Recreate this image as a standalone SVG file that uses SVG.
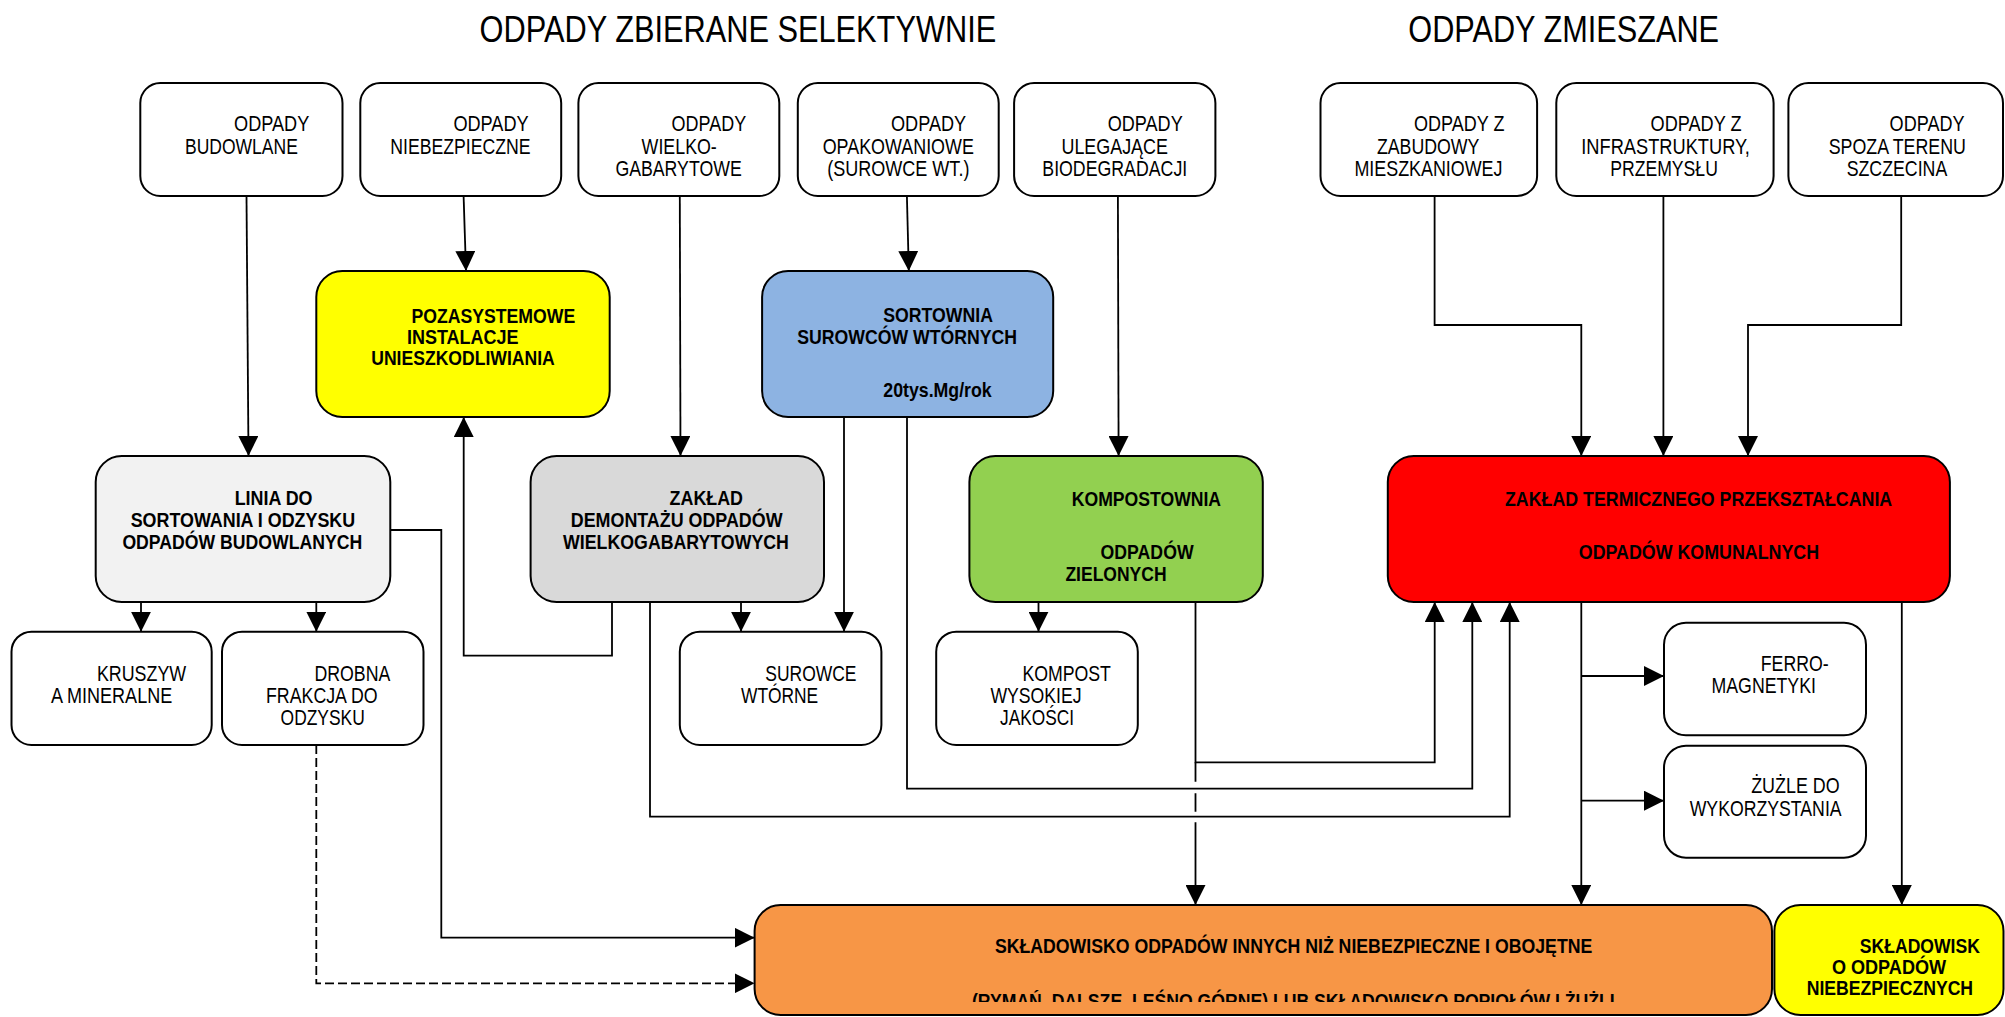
<svg xmlns="http://www.w3.org/2000/svg" width="2005" height="1017" viewBox="0 0 2005 1017">
<style>
text{font-family:"Liberation Sans",Arial,sans-serif;fill:#000}
.t{font-size:37px}
.r{font-size:22px}
.b{font-size:21px;font-weight:bold}
.box{stroke:#000;stroke-width:2}
.w{fill:#fff}
.c{fill:none;stroke:#000;stroke-width:1.8}
.d{stroke-dasharray:9 4}
</style>
<defs>
<marker id="ah" markerUnits="userSpaceOnUse" markerWidth="20" markerHeight="20" refX="20" refY="10" orient="auto" viewBox="0 0 20 20">
<path d="M0,0 L20,10 L0,20 Z" fill="#000"/>
</marker>
<clipPath id="clipL"><rect x="754" y="905" width="1018" height="97"/></clipPath>
</defs>
<rect width="2005" height="1017" fill="#fff"/>

<text class="t" x="479.6" y="41.5" textLength="516.6" lengthAdjust="spacingAndGlyphs">ODPADY ZBIERANE SELEKTYWNIE</text>
<text class="t" x="1408.3" y="41.5" textLength="310.8" lengthAdjust="spacingAndGlyphs">ODPADY ZMIESZANE</text>

<g id="connectors">
<path class="c" d="M246.5,196 L248.5,456" marker-end="url(#ah)"/>
<path class="c" d="M463.6,196 L466,271" marker-end="url(#ah)"/>
<path class="c" d="M679.8,196 L680.5,456" marker-end="url(#ah)"/>
<path class="c" d="M906.9,196 L908.8,271" marker-end="url(#ah)"/>
<path class="c" d="M1117.9,196 L1118.6,456" marker-end="url(#ah)"/>
<path class="c" d="M1434.6,196 V325 H1581.3 V456" marker-end="url(#ah)"/>
<path class="c" d="M1663.4,196 V456" marker-end="url(#ah)"/>
<path class="c" d="M1901.2,196 V325 H1748 V456" marker-end="url(#ah)"/>
<path class="c" d="M612,602 V655.7 H463.7 V417" marker-end="url(#ah)"/>
<path class="c" d="M390.3,530 H441.3 V937.7 H754.6" marker-end="url(#ah)"/>
<path class="c d" d="M316.3,745 V983.3 H754.6" marker-end="url(#ah)"/>
<path class="c" d="M141,602 V631.7" marker-end="url(#ah)"/>
<path class="c" d="M316.3,602 V631.7" marker-end="url(#ah)"/>
<path class="c" d="M741,602 V631.7" marker-end="url(#ah)"/>
<path class="c" d="M844,417 V631.7" marker-end="url(#ah)"/>
<path class="c" d="M907,417 V788.7 H1472.3 V602" marker-end="url(#ah)"/>
<path class="c" d="M650,602 V816.7 H1509.7 V602" marker-end="url(#ah)"/>
<path class="c" d="M1195.5,602 V762.3 H1434.7 V602" marker-end="url(#ah)"/>
<path class="c" d="M1195.5,762.3 V781.7 M1195.5,793.3 V811.7 M1195.5,822.3 V905" marker-end="url(#ah)"/>
<path class="c" d="M1038.5,602 V631.7" marker-end="url(#ah)"/>
<path class="c" d="M1581.3,602 V905" marker-end="url(#ah)"/>
<path class="c" d="M1581.3,676 H1664" marker-end="url(#ah)"/>
<path class="c" d="M1581.3,800.7 H1664" marker-end="url(#ah)"/>
<path class="c" d="M1901.8,602 V905" marker-end="url(#ah)"/>
</g>

<g id="n-budowlane">
<rect class="box w" x="140.3" y="83" width="202.2" height="113" rx="20"/>
<text class="r" x="234.1" y="131" textLength="75.2" lengthAdjust="spacingAndGlyphs">ODPADY</text>
<text class="r" x="185" y="153.5" textLength="112.8" lengthAdjust="spacingAndGlyphs">BUDOWLANE</text>
</g>
<g id="n-niebezpieczne">
<rect class="box w" x="360.3" y="83" width="200.9" height="113" rx="20"/>
<text class="r" x="453.4" y="131" textLength="75.3" lengthAdjust="spacingAndGlyphs">ODPADY</text>
<text class="r" x="390.3" y="153.5" textLength="140.3" lengthAdjust="spacingAndGlyphs">NIEBEZPIECZNE</text>
</g>
<g id="n-wielko">
<rect class="box w" x="578.4" y="83" width="200.9" height="113" rx="20"/>
<text class="r" x="671.6" y="131" textLength="74.6" lengthAdjust="spacingAndGlyphs">ODPADY</text>
<text class="r" x="641.6" y="153.5" textLength="75.2" lengthAdjust="spacingAndGlyphs">WIELKO-</text>
<text class="r" x="615.4" y="176" textLength="126.3" lengthAdjust="spacingAndGlyphs">GABARYTOWE</text>
</g>
<g id="n-opakowaniowe">
<rect class="box w" x="797.8" y="83" width="200.9" height="113" rx="20"/>
<text class="r" x="891" y="131" textLength="75.2" lengthAdjust="spacingAndGlyphs">ODPADY</text>
<text class="r" x="822.7" y="153.5" textLength="151.2" lengthAdjust="spacingAndGlyphs">OPAKOWANIOWE</text>
<text class="r" x="827.2" y="176" textLength="142.2" lengthAdjust="spacingAndGlyphs">(SUROWCE WT.)</text>
</g>
<g id="n-bio">
<rect class="box w" x="1014.1" y="83" width="201.3" height="113" rx="20"/>
<text class="r" x="1107.7" y="131" textLength="75" lengthAdjust="spacingAndGlyphs">ODPADY</text>
<text class="r" x="1061.5" y="153.5" textLength="106.4" lengthAdjust="spacingAndGlyphs">ULEGAJĄCE</text>
<text class="r" x="1042.3" y="176" textLength="144.9" lengthAdjust="spacingAndGlyphs">BIODEGRADACJI</text>
</g>
<g id="n-zabudowy">
<rect class="box w" x="1320.5" y="83" width="216.6" height="113" rx="20"/>
<text class="r" x="1414" y="131" textLength="90.4" lengthAdjust="spacingAndGlyphs">ODPADY Z</text>
<text class="r" x="1376.9" y="153.5" textLength="102.5" lengthAdjust="spacingAndGlyphs">ZABUDOWY</text>
<text class="r" x="1354.4" y="176" textLength="148.1" lengthAdjust="spacingAndGlyphs">MIESZKANIOWEJ</text>
</g>
<g id="n-infra">
<rect class="box w" x="1556.3" y="83" width="217.3" height="113" rx="20"/>
<text class="r" x="1650.6" y="131" textLength="91" lengthAdjust="spacingAndGlyphs">ODPADY Z</text>
<text class="r" x="1581.3" y="153.5" textLength="168.6" lengthAdjust="spacingAndGlyphs">INFRASTRUKTURY,</text>
<text class="r" x="1610.2" y="176" textLength="107.7" lengthAdjust="spacingAndGlyphs">PRZEMYSŁU</text>
</g>
<g id="n-spoza">
<rect class="box w" x="1788.4" y="83" width="214.6" height="113" rx="20"/>
<text class="r" x="1889.6" y="131" textLength="75" lengthAdjust="spacingAndGlyphs">ODPADY</text>
<text class="r" x="1828.7" y="153.5" textLength="137.2" lengthAdjust="spacingAndGlyphs">SPOZA TERENU</text>
<text class="r" x="1846.7" y="176" textLength="100.6" lengthAdjust="spacingAndGlyphs">SZCZECINA</text>
</g>

<g id="n-pozasystemowe">
<rect class="box" fill="#FFFF00" x="316.3" y="271" width="293.4" height="146" rx="26"/>
<text class="b" x="411.4" y="322.5" textLength="163.9" lengthAdjust="spacingAndGlyphs">POZASYSTEMOWE</text>
<text class="b" x="406.9" y="343.5" textLength="111.6" lengthAdjust="spacingAndGlyphs">INSTALACJE</text>
<text class="b" x="371.2" y="365" textLength="183.6" lengthAdjust="spacingAndGlyphs">UNIESZKODLIWIANIA</text>
</g>
<g id="n-sortownia">
<rect class="box" fill="#8DB3E2" x="762.1" y="271" width="291.1" height="146" rx="26"/>
<text class="b" x="883.3" y="321.5" textLength="109.7" lengthAdjust="spacingAndGlyphs">SORTOWNIA</text>
<text class="b" x="797.2" y="343.5" textLength="219.8" lengthAdjust="spacingAndGlyphs">SUROWCÓW WTÓRNYCH</text>
<text class="b" x="883.3" y="396.5" textLength="108.4" lengthAdjust="spacingAndGlyphs">20tys.Mg/rok</text>
</g>

<g id="n-linia">
<rect class="box" fill="#F2F2F2" x="95.7" y="456" width="294.6" height="146" rx="26"/>
<text class="b" x="234.7" y="505" textLength="77.8" lengthAdjust="spacingAndGlyphs">LINIA DO</text>
<text class="b" x="130.7" y="527" textLength="224.5" lengthAdjust="spacingAndGlyphs">SORTOWANIA I ODZYSKU</text>
<text class="b" x="122.4" y="549" textLength="239.8" lengthAdjust="spacingAndGlyphs">ODPADÓW BUDOWLANYCH</text>
</g>
<g id="n-demontaz">
<rect class="box" fill="#D9D9D9" x="530.6" y="456" width="293.4" height="146" rx="26"/>
<text class="b" x="669.6" y="505" textLength="73.4" lengthAdjust="spacingAndGlyphs">ZAKŁAD</text>
<text class="b" x="570.8" y="527" textLength="211.7" lengthAdjust="spacingAndGlyphs">DEMONTAŻU ODPADÓW</text>
<text class="b" x="563.1" y="549" textLength="225.8" lengthAdjust="spacingAndGlyphs">WIELKOGABARYTOWYCH</text>
</g>
<g id="n-kompostownia">
<rect class="box" fill="#92D050" x="969.4" y="456" width="293.4" height="146" rx="26"/>
<text class="b" x="1071.8" y="506" textLength="149.3" lengthAdjust="spacingAndGlyphs">KOMPOSTOWNIA</text>
<text class="b" x="1100.6" y="559" textLength="93" lengthAdjust="spacingAndGlyphs">ODPADÓW</text>
<text class="b" x="1065.4" y="581" textLength="101.2" lengthAdjust="spacingAndGlyphs">ZIELONYCH</text>
</g>
<g id="n-termiczny">
<rect class="box" fill="#FF0000" x="1387.8" y="456" width="562.1" height="146" rx="26"/>
<text class="b" x="1505" y="506" textLength="387.2" lengthAdjust="spacingAndGlyphs">ZAKŁAD TERMICZNEGO PRZEKSZTAŁCANIA</text>
<text class="b" x="1578.8" y="559" textLength="240.3" lengthAdjust="spacingAndGlyphs">ODPADÓW KOMUNALNYCH</text>
</g>

<g id="n-kruszyw">
<rect class="box w" x="11.5" y="631.7" width="200.2" height="113.3" rx="20"/>
<text class="r" x="96.9" y="680.5" textLength="89.3" lengthAdjust="spacingAndGlyphs">KRUSZYW</text>
<text class="r" x="51" y="702.5" textLength="121.2" lengthAdjust="spacingAndGlyphs">A MINERALNE</text>
</g>
<g id="n-drobna">
<rect class="box w" x="222" y="631.7" width="201.5" height="113.3" rx="20"/>
<text class="r" x="314.4" y="680.5" textLength="75.9" lengthAdjust="spacingAndGlyphs">DROBNA</text>
<text class="r" x="266" y="702.5" textLength="111.6" lengthAdjust="spacingAndGlyphs">FRAKCJA DO</text>
<text class="r" x="280.6" y="724.5" textLength="84.2" lengthAdjust="spacingAndGlyphs">ODZYSKU</text>
</g>
<g id="n-surowce">
<rect class="box w" x="679.8" y="631.7" width="201.6" height="113.3" rx="20"/>
<text class="r" x="765.3" y="680.5" textLength="91.2" lengthAdjust="spacingAndGlyphs">SUROWCE</text>
<text class="r" x="741" y="702.5" textLength="77.2" lengthAdjust="spacingAndGlyphs">WTÓRNE</text>
</g>
<g id="n-kompost">
<rect class="box w" x="936.2" y="631.7" width="201.6" height="113.3" rx="20"/>
<text class="r" x="1022.4" y="680.5" textLength="88.5" lengthAdjust="spacingAndGlyphs">KOMPOST</text>
<text class="r" x="990.4" y="702.5" textLength="91.2" lengthAdjust="spacingAndGlyphs">WYSOKIEJ</text>
<text class="r" x="1000" y="724.5" textLength="74" lengthAdjust="spacingAndGlyphs">JAKOŚCI</text>
</g>
<g id="n-ferro">
<rect class="box w" x="1664" y="622.7" width="202" height="112.6" rx="22"/>
<text class="r" x="1760.8" y="670.5" textLength="67.9" lengthAdjust="spacingAndGlyphs">FERRO-</text>
<text class="r" x="1711.5" y="693" textLength="104.4" lengthAdjust="spacingAndGlyphs">MAGNETYKI</text>
</g>
<g id="n-zuzle">
<rect class="box w" x="1664" y="745.7" width="202" height="112" rx="22"/>
<text class="r" x="1751.2" y="793" textLength="88.4" lengthAdjust="spacingAndGlyphs">ŻUŻLE DO</text>
<text class="r" x="1689.7" y="815.5" textLength="151.9" lengthAdjust="spacingAndGlyphs">WYKORZYSTANIA</text>
</g>

<g id="n-skladowisko">
<rect class="box" fill="#F79646" x="754.6" y="905" width="1017.4" height="110" rx="26"/>
<text class="b" x="994.9" y="953" textLength="597.4" lengthAdjust="spacingAndGlyphs">SKŁADOWISKO ODPADÓW INNYCH NIŻ NIEBEZPIECZNE I OBOJĘTNE</text>
<text class="b" x="972" y="1008" textLength="642.7" lengthAdjust="spacingAndGlyphs" clip-path="url(#clipL)">(RYMAŃ, DALSZE, LEŚNO GÓRNE) LUB SKŁADOWISKO POPIOŁÓW I ŻUŻLI</text>
</g>
<g id="n-niebezpiecznych">
<rect class="box" fill="#FFFF00" x="1774.4" y="905" width="229.1" height="110" rx="26"/>
<text class="b" x="1859.8" y="953" textLength="120.1" lengthAdjust="spacingAndGlyphs">SKŁADOWISK</text>
<text class="b" x="1831.9" y="974" textLength="114.2" lengthAdjust="spacingAndGlyphs">O ODPADÓW</text>
<text class="b" x="1806.7" y="995" textLength="166.4" lengthAdjust="spacingAndGlyphs">NIEBEZPIECZNYCH</text>
</g>
</svg>
